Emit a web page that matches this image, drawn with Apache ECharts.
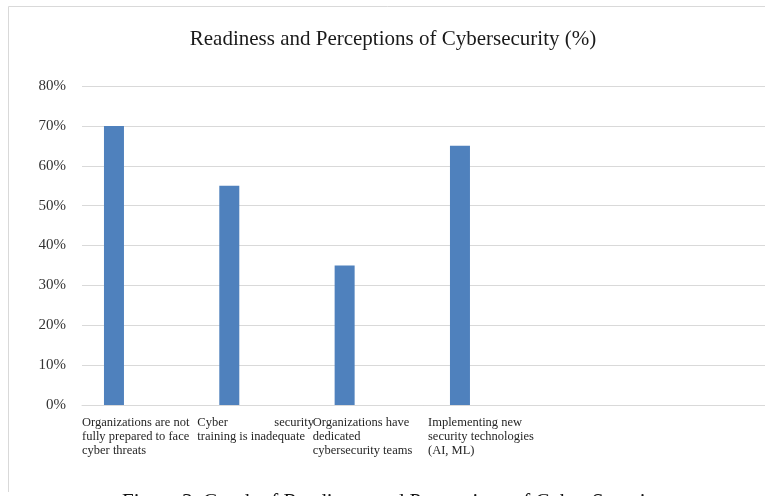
<!DOCTYPE html>
<html>
<head>
<meta charset="utf-8">
<script src="https://cdn.jsdelivr.net/npm/echarts@6/dist/echarts.min.js"></script>
<style>
  html, body { margin: 0; padding: 0; background: #fff; }
  #chart { width: 765px; height: 496px; }
</style>
</head>
<body>
<div id="chart"></div>
<script>
// Survey categories (empty slots keep the band layout of the workbook chart)
const categories = [
  'Organizations are not\nfully prepared to face\ncyber threats',
  'Cyber security\ntraining is inadequate',
  'Organizations have\ndedicated\ncybersecurity teams',
  'Implementing new\nsecurity technologies\n(AI, ML)',
  '',
  ''
];
// Share of respondents (%)
const values = [70, 55, 35, 65, null, null];
// Y axis range
const yTicks = { min: 0, max: 80, step: 10 };

const serif = '"Liberation Serif", "Times New Roman", serif';
const chart = echarts.init(document.getElementById('chart'), null, { renderer: 'canvas' });

// Two-word first lines are spread to the full label width (justified wrap)
function justify(label) {
  const lines = label.split('\n');
  return lines.map((line, i) => {
    const words = line.split(' ');
    if (i === 0 && lines.length > 1 && words.length === 2 && line.length < 16) {
      return '{l|' + words[0] + '}{r|' + words[1] + '}';
    }
    return '{n|' + line + '}';
  }).join('\n');
}

const labelFont = { fontFamily: serif, fontSize: 12.5, lineHeight: 14, color: '#262626' };

chart.setOption({
  animation: false,
  backgroundColor: '#ffffff',
  title: {
    text: 'Readiness and Perceptions of Cybersecurity (%)',
    left: 388,
    top: 24,
    textAlign: 'center',
    textStyle: { fontFamily: serif, fontSize: 21, fontWeight: 'normal', color: '#1a1a1a' }
  },
  graphic: [
    {
      type: 'polyline',
      shape: { points: [[8.5, 492], [8.5, 6.5], [770, 6.5]] },
      style: { stroke: '#d9d9d9', lineWidth: 1, fill: null },
      silent: true
    },
    {
      type: 'text',
      left: 122,
      top: 492,
      style: {
        text: 'Figure 3. Graph of Readiness and Perceptions of Cyber Security',
        font: '21px ' + serif,
        fill: '#111'
      },
      silent: true
    }
  ],
  grid: { left: 82, top: 86, width: 692, height: 319, containLabel: false, outerBoundsMode: 'none' },
  xAxis: [
    {
      type: 'category',
      data: categories,
      axisLine: { lineStyle: { color: '#d9d9d9', width: 1 } },
      axisTick: { show: false },
      axisLabel: { show: false }
    },
    {
      // label axis: ticks fall on band edges so each label starts at its band's left edge
      type: 'category',
      position: 'bottom',
      boundaryGap: false,
      data: categories.concat(['']),
      axisLine: { show: false },
      axisTick: { show: false },
      axisLabel: Object.assign({
        interval: 0,
        align: 'left',
        verticalAlign: 'top',
        margin: 11,
        formatter: justify,
        rich: {
          n: labelFont,
          l: Object.assign({ width: 77 }, labelFont),
          r: labelFont
        }
      }, labelFont)
    }
  ],
  yAxis: {
    type: 'value',
    min: yTicks.min,
    max: yTicks.max,
    interval: yTicks.step,
    axisLine: { show: false },
    axisTick: { show: false },
    splitLine: { lineStyle: { color: '#d9d9d9', width: 1 } },
    axisLabel: {
      formatter: v => v + '%',
      margin: 16,
      fontFamily: serif,
      fontSize: 15,
      color: '#333'
    }
  },
  series: [
    {
      name: 'Share (%)',
      type: 'bar',
      xAxisIndex: 0,
      data: values,
      barWidth: 20,
      barGap: '157%',
      itemStyle: { color: '#4f81bd' }
    },
    {
      // second (unfilled) series slot of the workbook chart, keeps the bars off-centre
      name: 'blank',
      type: 'bar',
      xAxisIndex: 0,
      data: values.map(() => null),
      barWidth: 20
    }
  ]
});
</script>
</body>
</html>
